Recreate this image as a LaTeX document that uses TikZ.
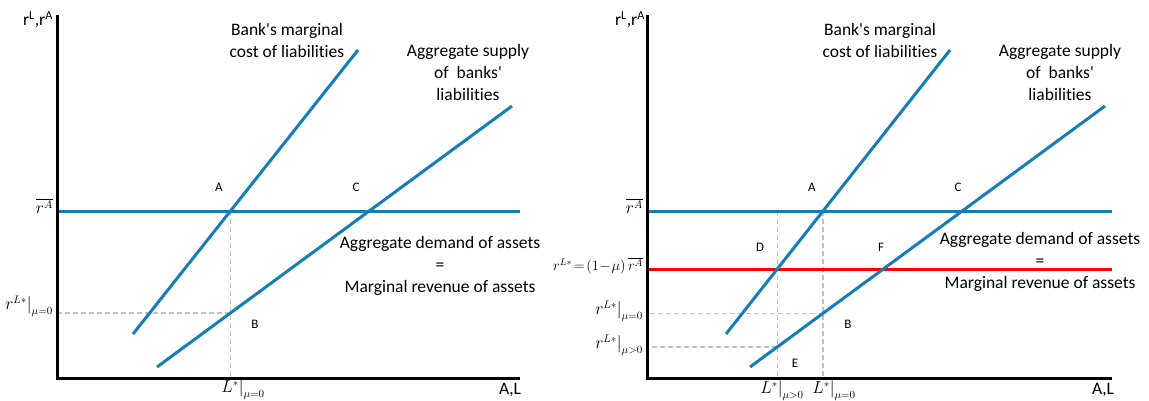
\documentclass[tikz,border=0pt]{standalone}
\usepackage{fontspec}
\setmainfont{Carlito}[Ligatures={TeXOff,CommonOff}]
\usetikzlibrary{intersections}
\definecolor{lblue}{RGB}{22,125,184}
\definecolor{gguide}{RGB}{195,195,195}
\begin{document}
\begin{tikzpicture}[x=1pt,y=-1pt,
  axis/.style={line width=3pt},
  curve/.style={lblue, line width=3pt},
  redline/.style={red, line width=3pt},
  guide/.style={gguide, line width=1.5pt, dash pattern=on 5pt off 3pt},
  lbl/.style={font=\fontsize{17.5}{22}\selectfont, align=center, inner sep=0pt},
  pt/.style={font=\fontsize{13}{15}\selectfont, inner sep=0pt},
  mth/.style={font=\fontsize{16}{19}\selectfont, inner sep=0pt},
  mths/.style={font=\fontsize{14}{17}\selectfont, inner sep=0pt}]
\useasboundingbox (0,0) rectangle (1149,400);
% ---------------- left panel ----------------
\coordinate (O1) at (57,378);
\coordinate (Y1) at (57,15);
\coordinate (X1) at (520,378);
\coordinate (ra1s) at (57,211);
\coordinate (ra1e) at (520,211);
\coordinate (mc1s) at (133,334);
\coordinate (mc1e) at (358,50);
\coordinate (sp1s) at (157,367);
\coordinate (sp1e) at (512,106);
\path[name path=ra1] (ra1s) -- (ra1e);
\path[name path=mc1] (mc1s) -- (mc1e);
\path[name path=sp1] (sp1s) -- (sp1e);
\path[name intersections={of=ra1 and mc1, by=A1}];
\path[name path=v1] (A1) -- (A1 |- O1);
\path[name intersections={of=v1 and sp1, by=B1}];
\draw[guide] (A1) -- (A1 |- O1);
\draw[guide] (B1) -- (B1 -| O1);
\draw[curve] (ra1s) -- (ra1e);
\draw[curve] (mc1s) -- (mc1e);
\draw[curve] (sp1s) -- (sp1e);
\draw[axis] (Y1) -- (O1) -- (X1);
\node[pt] (lA1) at (219,187) {A};
\node[pt] (lC1) at (356,187) {C};
\node[pt] (lB1) at (255,324) {B};
\node[lbl] (ry1) at (38,20) {r\textsuperscript{L},r\textsuperscript{A}};
\node[lbl] (ax1) at (510,390) {A,L};
\node[lbl] (mct1) at (287,40) {Bank's marginal\\cost of liabilities};
\node[lbl] (spt1) at (468,72) {Aggregate supply\\of \ banks'\\liabilities};
\node[lbl] (adt1) at (440,266) {Aggregate demand of assets\\=\\Marginal revenue of assets};
\node[mth, anchor=east] (rA1) at (53,206) {$\overline{r^{A}}$};
\node[mth, anchor=east] (rL1) at (53,306) {$r^{L*}\big|_{\mu=0}$};
\node[mth] (L1) at (243,390) {$L^{*}\big|_{\mu=0}$};
% ---------------- right panel ----------------
\coordinate (O2) at (647,378);
\coordinate (Y2) at (647,15);
\coordinate (X2) at (1112,378);
\coordinate (ra2s) at (647,211);
\coordinate (ra2e) at (1112,211);
\coordinate (rd2s) at (647,269);
\coordinate (rd2e) at (1112,269);
\coordinate (mc2s) at (726,334);
\coordinate (mc2e) at (950,50);
\coordinate (sp2s) at (750,367);
\coordinate (sp2e) at (1105,106);
\path[name path=ra2] (ra2s) -- (ra2e);
\path[name path=rd2] (rd2s) -- (rd2e);
\path[name path=mc2] (mc2s) -- (mc2e);
\path[name path=sp2] (sp2s) -- (sp2e);
\path[name intersections={of=ra2 and mc2, by=A2}];
\path[name intersections={of=rd2 and mc2, by=D2}];
\path[name path=v2] (A2) -- (A2 |- O2);
\path[name path=w2] (D2 |- ra2s) -- (D2 |- O2);
\path[name intersections={of=v2 and sp2, by=B2}];
\path[name intersections={of=w2 and sp2, by=E2}];
\draw[guide] (A2) -- (A2 |- O2);
\draw[guide] (D2 |- ra2s) -- (D2 |- O2);
\draw[guide] (B2) -- (B2 -| O2);
\draw[guide] (E2) -- (E2 -| O2);
\draw[curve] (ra2s) -- (ra2e);
\draw[redline] (rd2s) -- (rd2e);
\draw[curve] (mc2s) -- (mc2e);
\draw[curve] (sp2s) -- (sp2e);
\draw[axis] (Y2) -- (O2) -- (X2);
\node[pt] (lA2) at (812,187) {A};
\node[pt] (lC2) at (958,187) {C};
\node[pt] (lD2) at (760,247) {D};
\node[pt] (lF2) at (881,247) {F};
\node[pt] (lB2) at (848,324) {B};
\node[pt] (lE2) at (795,363) {E};
\node[lbl] (ry2) at (630,20) {r\textsuperscript{L},r\textsuperscript{A}};
\node[lbl] (ax2) at (1103,390) {A,L};
\node[lbl] (mct2) at (880,40) {Bank's marginal\\cost of liabilities};
\node[lbl] (spt2) at (1060,72) {Aggregate supply\\of \ banks'\\liabilities};
\node[lbl] (adt2) at (1040,262) {Aggregate demand of assets\\=\\Marginal revenue of assets};
\node[mth, anchor=east] (rA2) at (643,206) {$\overline{r^{A}}$};
\node[mths, anchor=east] (rr2) at (643,266) {$r^{L*}\!=\!\left(1\!-\!\mu\right)\overline{r^{A}}$};
\node[mth, anchor=east] (rL2) at (643,311) {$r^{L*}\big|_{\mu=0}$};
\node[mth, anchor=east] (rM2) at (643,345) {$r^{L*}\big|_{\mu>0}$};
\node[mth] (L2a) at (782,391) {$L^{*}\big|_{\mu>0}$};
\node[mth] (L2b) at (834,391) {$L^{*}\big|_{\mu=0}$};
\end{tikzpicture}
\end{document}
